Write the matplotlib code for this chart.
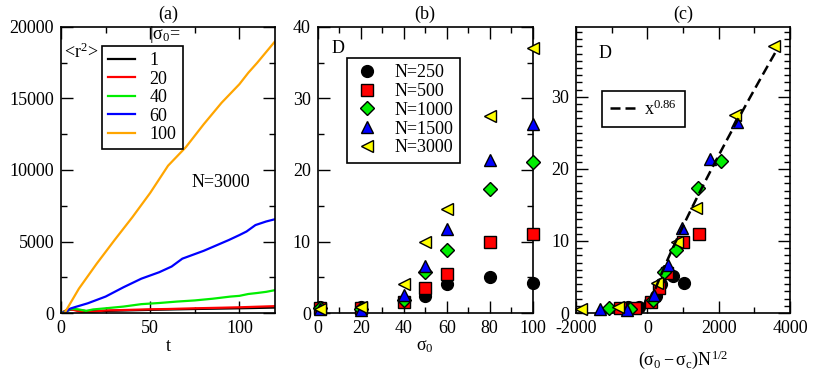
import matplotlib
matplotlib.use("Agg")
import matplotlib.pyplot as plt
import numpy as np
from matplotlib.ticker import MultipleLocator

plt.rcParams["font.family"] = ["Liberation Serif", "DejaVu Serif"]
plt.rcParams["mathtext.fontset"] = "custom"
plt.rcParams["mathtext.rm"] = "Liberation Serif"
plt.rcParams["mathtext.it"] = "Liberation Serif:italic"
plt.rcParams["axes.unicode_minus"] = False
plt.rcParams["font.size"] = 13

# (a) <r^2> vs t at N=3000, one curve per sigma_0
t_s1 = [0, 3, 6, 10, 15, 20, 30, 50, 75, 100, 120]
r_s1 = [0, 150, 250, 200, 120, 130, 160, 220, 280, 330, 380]
t_s20 = [0, 3, 6, 9, 13, 16, 20, 25, 35, 50, 60, 75, 90, 100, 110, 120]
r_s20 = [0, 200, 250, 150, 30, 60, 120, 180, 210, 260, 280, 330, 370, 400, 440, 480]
t_s40 = [0, 3, 6, 10, 14, 18, 25, 35, 45, 55, 65, 75, 85, 95, 100, 105, 110, 115, 120]
r_s40 = [0, 150, 300, 250, 150, 250, 330, 450, 620, 700, 800, 880, 1000, 1150, 1200, 1330, 1400, 1480, 1600]
t_s60 = [0, 3, 5, 8, 15, 25, 35, 45, 55, 62, 68, 80, 94, 100, 104, 109, 115, 120]
r_s60 = [0, 100, 300, 420, 680, 1150, 1800, 2400, 2850, 3250, 3800, 4350, 5100, 5450, 5700, 6150, 6400, 6560]
t_s100 = [0, 2, 10, 20, 30, 40, 50, 60, 70, 80, 90, 100, 105, 110, 120]
r_s100 = [0, 0, 1700, 3450, 5100, 6700, 8400, 10300, 11600, 13200, 14700, 16000, 16800, 17500, 19000]

# (b) diffusion constant D vs sigma_0 for several N
sigma0 = [1, 20, 40, 50, 60, 80, 100]
sizes = [250, 500, 1000, 1500, 3000]
D_250 = [0.9, 0.8, 1.5, 2.4, 4.0, 5.1, 4.2]
D_500 = [0.7, 0.7, 1.5, 3.5, 5.5, 9.9, 11.0]
D_1000 = [0.7, 0.6, 1.8, 5.7, 8.8, 17.3, 21.1]
D_1500 = [0.6, 0.4, 2.5, 6.6, 11.8, 21.4, 26.5]
D_3000 = [0.6, 0.8, 4.1, 9.9, 14.6, 27.5, 37.1]

# (c) scaling collapse, sigma_c; fitted power law
sigma_c = 35
fit_amp = 0.0317
fit_exp = 0.86
fit_x0, fit_x1 = 225, 3580

curves = [(t_s1, r_s1, "1", "black"), (t_s20, r_s20, "20", "#ff0000"),
          (t_s40, r_s40, "40", "#00ee00"), (t_s60, r_s60, "60", "#0000ff"),
          (t_s100, r_s100, "100", "#ffa500")]
series = [(D_250, "o", "black", 8.5), (D_500, "s", "#ff0000", 8),
          (D_1000, "D", "#00ee00", 7), (D_1500, "^", "#0000ff", 9),
          (D_3000, "<", "#ffff00", 9)]


def style(ax):
    ax.tick_params(which="both", direction="in", top=True, right=True, width=1, pad=5)
    ax.tick_params(which="major", length=8.5)
    ax.tick_params(which="minor", length=4.5)
    for s in ax.spines.values():
        s.set_linewidth(1.2)


def boxed_legend(ax, **kw):
    leg = ax.legend(loc="upper left", borderaxespad=0, fancybox=False, framealpha=1,
                    edgecolor="black", fontsize=13, **kw)
    leg.get_frame().set_linewidth(1.2)
    return leg


fig = plt.figure(figsize=(8.17, 3.71), dpi=100)
ax_a = fig.add_axes([0.0747, 0.1563, 0.262, 0.771])
ax_b = fig.add_axes([0.389, 0.1563, 0.263, 0.771])
ax_c = fig.add_axes([0.705, 0.1563, 0.262, 0.771])

# panel a
for t, r, lab, col in curves:
    ax_a.plot(t, r, color=col, lw=1.6, label=lab)
ax_a.set(xlim=(0, 120), ylim=(0, 20000))
ax_a.xaxis.set_major_locator(MultipleLocator(50))
ax_a.xaxis.set_minor_locator(MultipleLocator(25))
ax_a.yaxis.set_major_locator(MultipleLocator(5000))
ax_a.yaxis.set_minor_locator(MultipleLocator(2500))
style(ax_a)
ax_a.set_title("(a)", fontsize=13, pad=6)
ax_a.set_xlabel("t", labelpad=1)
ax_a.text(0.012, 0.913, "<r$^2$>", transform=ax_a.transAxes, va="center", ha="left")
ax_a.text(0.41, 0.972, r"|$\mathregular{\sigma_0}$=", transform=ax_a.transAxes, va="center", ha="left")
ax_a.text(0.61, 0.455, "N=3000", transform=ax_a.transAxes, va="center", ha="left")
boxed_legend(ax_a, bbox_to_anchor=(0.19, 0.934), handlelength=1.5,
             labelspacing=0.08, borderpad=0.35, handletextpad=0.8)

# panel b
for (D, m, col, ms), n in zip(series, sizes):
    ax_b.plot(sigma0, D, ls="none", marker=m, color=col, mec="black", mew=1, ms=ms,
              clip_on=False, zorder=3, label=f"N={n}")
ax_b.set(xlim=(0, 100), ylim=(0, 40))
ax_b.xaxis.set_major_locator(MultipleLocator(20))
ax_b.xaxis.set_minor_locator(MultipleLocator(10))
ax_b.yaxis.set_major_locator(MultipleLocator(10))
ax_b.yaxis.set_minor_locator(MultipleLocator(5))
style(ax_b)
ax_b.set_title("(b)", fontsize=13, pad=6)
ax_b.set_xlabel(r"$\mathregular{\sigma_0}$", labelpad=1)
ax_b.text(0.065, 0.923, "D", transform=ax_b.transAxes, va="center", ha="left")
boxed_legend(ax_b, bbox_to_anchor=(0.135, 0.892), handlelength=1.5,
             labelspacing=0.1, borderpad=0.35, handletextpad=0.8)

# panel c
for (D, m, col, ms), n in zip(series, sizes):
    x = (np.array(sigma0) - sigma_c) * np.sqrt(n)
    ax_c.plot(x, D, ls="none", marker=m, color=col, mec="black", mew=1, ms=ms,
              clip_on=False, zorder=3)
xf = np.linspace(fit_x0, fit_x1, 100)
ax_c.plot(xf, fit_amp * xf ** fit_exp, color="black", lw=1.8, dashes=(4, 2), zorder=4,
          label=r"$\mathregular{x^{0.86}}$")
ax_c.set(xlim=(-2000, 4000), ylim=(0, 39.7))
ax_c.xaxis.set_major_locator(MultipleLocator(2000))
ax_c.xaxis.set_minor_locator(MultipleLocator(1000))
ax_c.yaxis.set_major_locator(MultipleLocator(10))
ax_c.yaxis.set_minor_locator(MultipleLocator(1))
style(ax_c)
ax_c.set_title("(c)", fontsize=13, pad=6)
ax_c.set_xlabel(r"$\mathregular{(\sigma_0-\sigma_c)N^{1/2}}$", labelpad=8)
ax_c.text(0.107, 0.909, "D", transform=ax_c.transAxes, va="center", ha="left")
boxed_legend(ax_c, bbox_to_anchor=(0.121, 0.776), handlelength=1.4,
             borderpad=0.45, handletextpad=0.5)

fig.savefig("out.png", dpi=100)
